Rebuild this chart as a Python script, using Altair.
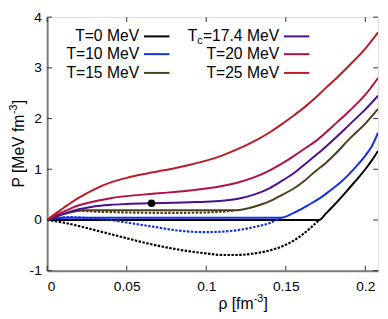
import altair as alt
import pandas as pd

# ---------------- data ----------------
rho_T0_solid = [0, 0.171, 0.175, 0.18, 0.185, 0.19, 0.195, 0.2, 0.204, 0.208]
P_T0_solid = [0, 0, 0.12, 0.28, 0.45, 0.63, 0.81, 1.0, 1.17, 1.36]
rho_T0_dot = [0, 0.01, 0.02, 0.03, 0.04, 0.05, 0.06, 0.07, 0.08, 0.09, 0.1, 0.11, 0.12, 0.13, 0.14, 0.15, 0.16, 0.171]
P_T0_dot = [0, -0.05, -0.12, -0.2, -0.28, -0.36, -0.44, -0.51, -0.57, -0.62, -0.66, -0.69, -0.69, -0.66, -0.6, -0.49, -0.3, 0]

rho_T10_solid = [0, 0.003, 0.006, 0.01, 0.147, 0.155, 0.16, 0.165, 0.17, 0.175, 0.18, 0.185, 0.19, 0.195, 0.2, 0.204, 0.208]
P_T10_solid = [0, 0.025, 0.038, 0.045, 0.045, 0.14, 0.22, 0.31, 0.4, 0.51, 0.63, 0.76, 0.91, 1.08, 1.27, 1.45, 1.72]
rho_T10_dot = [0, 0.005, 0.01, 0.015, 0.02, 0.03, 0.04, 0.05, 0.06, 0.07, 0.08, 0.09, 0.1, 0.11, 0.12, 0.13, 0.14, 0.147]
P_T10_dot = [0, 0.03, 0.05, 0.055, 0.05, 0.03, 0.0, -0.05, -0.1, -0.15, -0.2, -0.23, -0.24, -0.23, -0.2, -0.14, -0.06, 0.045]

rho_T15_solid = [0, 0.005, 0.01, 0.015, 0.02, 0.025, 0.118, 0.125, 0.13, 0.135, 0.14, 0.148, 0.155, 0.162, 0.169, 0.175, 0.182, 0.19, 0.2, 0.208]
P_T15_solid = [0, 0.06, 0.11, 0.15, 0.18, 0.19, 0.19, 0.22, 0.26, 0.31, 0.37, 0.5, 0.62, 0.78, 0.97, 1.12, 1.33, 1.6, 1.9, 2.19]
rho_T15_dot = [0.022, 0.03, 0.04, 0.05, 0.06, 0.07, 0.08, 0.09, 0.1, 0.11, 0.118]
P_T15_dot = [0.185, 0.165, 0.155, 0.148, 0.143, 0.14, 0.14, 0.142, 0.148, 0.163, 0.19]

rho_Tc = [0, 0.005, 0.01, 0.015, 0.02, 0.025, 0.03, 0.04, 0.05, 0.0656, 0.08, 0.09, 0.1, 0.11, 0.12, 0.13, 0.14, 0.148, 0.155, 0.162, 0.169, 0.175, 0.182, 0.19, 0.2, 0.208]
P_Tc = [0, 0.065, 0.12, 0.17, 0.21, 0.24, 0.27, 0.3, 0.315, 0.33, 0.34, 0.35, 0.36, 0.38, 0.42, 0.5, 0.63, 0.78, 0.92, 1.1, 1.28, 1.44, 1.64, 1.88, 2.18, 2.45]

rho_T20 = [0, 0.005, 0.01, 0.015, 0.02, 0.03, 0.04, 0.05, 0.06, 0.07, 0.08, 0.09, 0.1, 0.11, 0.12, 0.13, 0.14, 0.148, 0.155, 0.162, 0.169, 0.175, 0.182, 0.19, 0.2, 0.208]
P_T20 = [0, 0.085, 0.16, 0.23, 0.29, 0.37, 0.43, 0.47, 0.5, 0.525, 0.55, 0.58, 0.62, 0.67, 0.74, 0.84, 0.98, 1.12, 1.26, 1.41, 1.56, 1.72, 1.92, 2.15, 2.47, 2.8]

rho_T25 = [0, 0.005, 0.01, 0.015, 0.02, 0.03, 0.04, 0.05, 0.06, 0.07, 0.08, 0.09, 0.1, 0.11, 0.12, 0.13, 0.14, 0.148, 0.155, 0.162, 0.169, 0.175, 0.182, 0.19, 0.2, 0.208]
P_T25 = [0, 0.12, 0.23, 0.34, 0.44, 0.61, 0.74, 0.83, 0.9, 0.96, 1.02, 1.09, 1.17, 1.27, 1.4, 1.55, 1.73, 1.9, 2.06, 2.23, 2.42, 2.6, 2.8, 3.05, 3.38, 3.7]

crit_rho = [0.0656]
crit_P = [0.33]

x_ticks = [0, 0.05, 0.1, 0.15, 0.2]
y_ticks = [-1, 0, 1, 2, 3, 4]

labels_left = ["T=0 MeV", "T=10 MeV", "T=15 MeV"]
labels_right = ["=17.4 MeV", "T=20 MeV", "T=25 MeV"]

C_T0, C_T10, C_T15 = "#000000", "#1030e0", "#4a3e1c"
C_TC, C_T20, C_T25 = "#4b0f8c", "#b01048", "#b81c24"

# ---------------- layout ----------------
W, H = 338, 259
FONT = "Liberation Sans"
xs = alt.Scale(domain=[0, 0.208], nice=False, zero=False)
ys = alt.Scale(domain=[-1, 4], nice=False, zero=False)
PX_X = W / 0.208     # pixels per rho unit
PX_Y = H / 5.0       # pixels per P unit

XA = alt.Axis(values=x_ticks, labelExpr="'' + datum.value", ticks=False, grid=False,
              domainColor="#7a7a7a", domainWidth=2, labelFont=FONT, labelFontSize=14,
              labelColor="#000", labelPadding=9, title=None)
YA = alt.Axis(values=y_ticks, labelExpr="'' + datum.value", ticks=False, grid=False,
              domainColor="#7a7a7a", domainWidth=2, labelFont=FONT, labelFontSize=14,
              labelColor="#000", labelPadding=6, title=None)


def line(rx, py, color, dotted=False):
    df = pd.DataFrame({"rho": rx, "P": py})
    kw = dict(color=color, strokeWidth=2, interpolate="monotone", clip=True)
    if dotted:
        kw["strokeDash"] = [2.5, 1.5]
        kw["strokeWidth"] = 2.2
    return alt.Chart(df).mark_line(**kw).encode(
        x=alt.X("rho:Q", scale=xs, axis=XA),
        y=alt.Y("P:Q", scale=ys, axis=YA),
    )


layers = [
    line(rho_T0_solid, P_T0_solid, C_T0),
    line(rho_T0_dot, P_T0_dot, C_T0, dotted=True),
    line(rho_T10_dot, P_T10_dot, C_T10, dotted=True),
    line(rho_T10_solid, P_T10_solid, C_T10),
    line(rho_T15_dot, P_T15_dot, C_T15, dotted=True),
    line(rho_T15_solid, P_T15_solid, C_T15),
    line(rho_Tc, P_Tc, C_TC),
    line(rho_T20, P_T20, C_T20),
    line(rho_T25, P_T25, C_T25),
]

# critical point
layers.append(
    alt.Chart(pd.DataFrame({"rho": crit_rho, "P": crit_P})).mark_circle(size=60, color="#000", opacity=1).encode(
        x=alt.X("rho:Q", scale=xs, axis=XA), y=alt.Y("P:Q", scale=ys, axis=YA))
)

# inward ticks on all four sides
xt = pd.DataFrame({"rho": x_ticks})
yt = pd.DataFrame({"P": y_ticks})
tick_kw = dict(color="#333", strokeWidth=1)
layers += [
    alt.Chart(xt).mark_rule(**tick_kw).encode(x=alt.X("rho:Q", scale=xs, axis=XA), y=alt.value(H), y2=alt.value(H - 5)),
    alt.Chart(xt).mark_rule(**tick_kw).encode(x=alt.X("rho:Q", scale=xs, axis=XA), y=alt.value(0), y2=alt.value(5)),
    alt.Chart(yt).mark_rule(**tick_kw).encode(y=alt.Y("P:Q", scale=ys, axis=YA), x=alt.value(0), x2=alt.value(5)),
    alt.Chart(yt).mark_rule(**tick_kw).encode(y=alt.Y("P:Q", scale=ys, axis=YA), x=alt.value(W - 5), x2=alt.value(W)),
]

one = pd.DataFrame({"a": [0]})


def txt(s, rx, py, size=16, align="right", baseline="middle", angle=0):
    return alt.Chart(one).mark_text(text=s, font=FONT, fontSize=size, align=align, baseline=baseline,
                                    angle=angle, color="#000").encode(
        x=alt.X(datum=rx, scale=xs, axis=XA), y=alt.Y(datum=py, scale=ys, axis=YA))


def sample(r1, r2, py, color):
    return alt.Chart(one).mark_rule(color=color, strokeWidth=2).encode(
        x=alt.X(datum=r1, scale=xs, axis=XA), x2=alt.X2(datum=r2), y=alt.Y(datum=py, scale=ys, axis=YA))


# legend (text to the left of the line sample), anchored in axis units
rows = [3.62, 3.27, 2.9]
left_colors = [C_T0, C_T10, C_T15]
right_colors = [C_TC, C_T20, C_T25]
for lab, y, c in zip(labels_left, rows, left_colors):
    layers.append(txt(lab, 0.0578, y))
    layers.append(sample(0.0609, 0.0769, y, c))
for lab, y, c in zip(labels_right, rows, right_colors):
    layers.append(txt(lab, 0.1458, y))
    layers.append(sample(0.1488, 0.1648, y, c))
# T_c : "T" + subscript "c" placed left of "=17.4 MeV"
c_right = 0.1458 - 78 / PX_X
layers.append(txt("c", c_right, rows[0] - 5 / PX_Y, size=11))
layers.append(txt("T", c_right - 5.5 / PX_X, rows[0]))

# axis titles with superscripts
xt_r, xt_p = 0.1077, -1.75
yt_r, yt_p = -0.0148, 0.64
layers += [
    txt("ρ [fm", xt_r, xt_p, align="left", baseline="alphabetic"),
    txt("-3", xt_r + 36 / PX_X, xt_p + 7 / PX_Y, size=11, align="left", baseline="alphabetic"),
    txt("]", xt_r + 46 / PX_X, xt_p, align="left", baseline="alphabetic"),
    txt("P [MeV fm", yt_r, yt_p, align="left", baseline="alphabetic", angle=270),
    txt("-3", yt_r - 6.5 / PX_X, yt_p + 75 / PX_Y, size=11, align="left", baseline="alphabetic", angle=270),
    txt("]", yt_r, yt_p + 85 / PX_Y, align="left", baseline="alphabetic", angle=270),
]

chart = alt.layer(*layers).properties(
    width=W, height=H,
    autosize=alt.AutoSizeParams(type="none"),
    padding={"left": 40, "right": 2, "top": 6, "bottom": 44},
).configure_view(stroke="#000", strokeWidth=1).configure(background="white")

chart.save("out.html", embed_options={"renderer": "svg", "actions": False})
